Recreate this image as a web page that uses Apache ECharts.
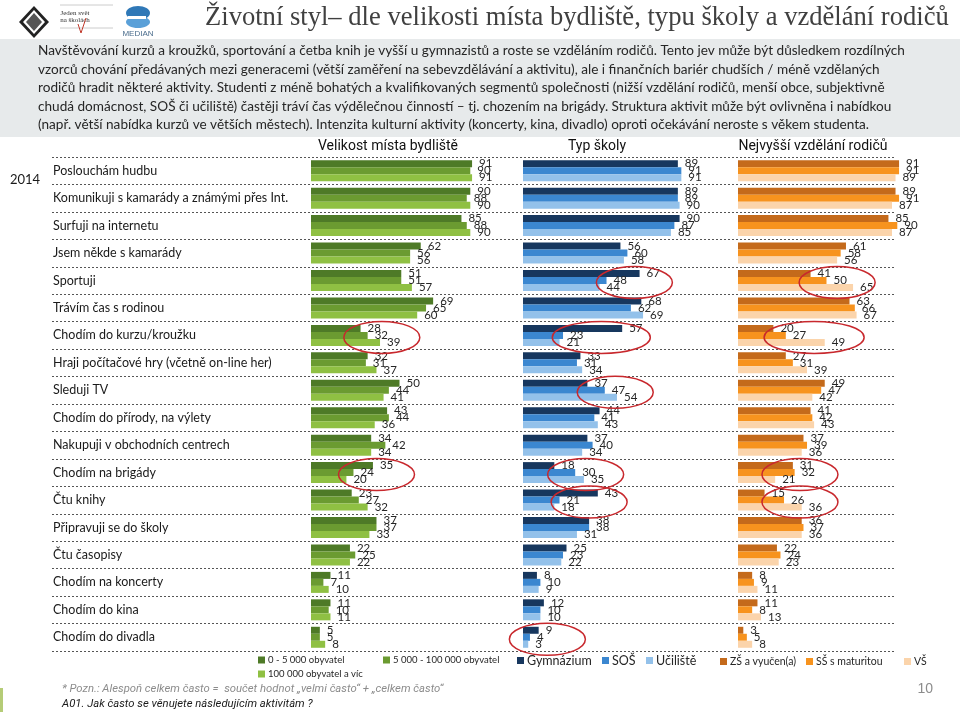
<!DOCTYPE html>
<html><head><meta charset="utf-8">
<script src="https://cdn.jsdelivr.net/npm/echarts@6/dist/echarts.min.js"></script>
<style>html,body{margin:0;padding:0;background:#fff}#c{width:960px;height:712px}</style>
</head><body><div id="c"></div>
<script>
var categories = ["Poslouchám hudbu","Komunikuji s kamarády a známými přes Int.","Surfuji na internetu","Jsem někde s kamarády","Sportuji","Trávím čas s rodinou","Chodím do kurzu/kroužku","Hraji počítačové hry (včetně on-line her)","Sleduji TV","Chodím do přírody, na výlety","Nakupuji v obchodních centrech","Chodím na brigády","Čtu knihy","Připravuji se do školy","Čtu časopisy","Chodím na koncerty","Chodím do kina","Chodím do divadla"];
var townSmall  = [91,90,85,62,51,69,28,32,50,43,34,35,23,37,22,11,11,5];
var townMid    = [90,88,88,56,51,65,32,31,44,44,42,24,27,37,25,7,10,5];
var townBig    = [91,90,90,56,57,60,39,37,41,36,34,20,32,33,22,10,11,8];
var gymnazium  = [89,89,90,56,67,68,57,33,37,44,37,18,43,38,25,8,12,9];
var sos        = [91,89,87,60,48,62,23,31,47,41,40,30,21,38,23,10,10,4];
var uciliste   = [91,90,85,58,44,69,21,34,54,43,34,35,18,31,22,9,10,3];
var zsVyucen   = [91,89,85,61,41,63,20,27,49,41,37,31,15,36,22,8,11,3];
var ssMaturita = [91,91,90,58,50,66,27,31,47,42,39,32,26,37,24,9,8,5];
var vs         = [89,87,87,56,65,67,49,39,42,43,36,21,36,36,23,11,13,8];
var seriesNames = ["0 - 5 000 obyvatel","5 000 - 100 000 obyvatel","100 000 obyvatel a víc","Gymnázium","SOŠ","Učiliště","ZŠ a vyučen(a)","SŠ s maturitou","VŠ"];
var panelTitles = ["Velikost místa bydliště","Typ školy","Nejvyšší vzdělání rodičů"];
var paragraph = [
"Navštěvování kurzů a kroužků, sportování a četba knih je vyšší u gymnazistů a roste se vzděláním rodičů. Tento jev může být důsledkem rozdílných",
"vzorců chování předávaných mezi generacemi (větší zaměření na sebevzdělávání a aktivitu), ale i finančních bariér chudších / méně vzdělaných",
"rodičů hradit některé aktivity. Studenti z méně bohatých a kvalifikovaných segmentů společnosti (nižší vzdělání rodičů, menší obce, subjektivně",
"chudá domácnost, SOŠ či učiliště) častěji tráví čas výdělečnou činností – tj. chozením na brigády. Struktura aktivit může být ovlivněna i nabídkou",
"(např. větší nabídka kurzů ve větších městech). Intenzita kulturní aktivity (koncerty, kina, divadlo) oproti očekávání neroste s věkem studenta."
];
// highlighted (circled) groups: [panel, row, centre value]
var highlights = [[0,6,40],[0,11,37],[1,4,64],[1,6,45],[1,8,53],[1,11,36],[1,12,38],[1,17,14],[2,4,56],[2,6,43],[2,11,35],[2,12,35]];
var highlightRx = [38,38,38,49,38,38,38,38,38,50,38,38];

var colors = ["#4e7a27","#6b9b31","#8fc043","#17375e","#3b87d0","#93c1ea","#c46a1b","#f7931e","#fbd4ab"];
var dataSets = [townSmall,townMid,townBig,gymnazium,sos,uciliste,zsVyucen,ssMaturita,vs];
var NUMFONT = "Lato, 'Noto Sans', sans-serif";
var TOP = 157, H = 494;
var grids = [
  {left:52, width:843, top:TOP, height:H},
  {left:311, width:177, top:TOP, height:H},
  {left:523, width:174, top:TOP, height:H},
  {left:738, width:177, top:TOP, height:H}
];
var xAxes = [], yAxes = [];
for (var g=0; g<4; g++){
  xAxes.push({type:'value', gridIndex:g, min:0, max:100, show:false});
  yAxes.push({type:'category', gridIndex:g, data:categories, inverse:true,
    axisLine:{show:false}, axisTick:{show:false},
    axisLabel:{show:g===0, inside:true, margin:1, color:'#1a1a1a', fontSize:12.5, fontFamily:NUMFONT},
    splitLine:{show:g===0, lineStyle:{color:'#555', width:1, type:[2,2]}}
  });
}
var series = [];
for (var i=0;i<9;i++){
  series.push({name:seriesNames[i], type:'bar', xAxisIndex:1+Math.floor(i/3), yAxisIndex:1+Math.floor(i/3),
    data:dataSets[i], barWidth:7, barGap:'0%', itemStyle:{color:colors[i]},
    label:{show:true, position:'right', distance:7, color:'#262626', fontSize:11.5, fontFamily:NUMFONT},
    emphasis:{disabled:true}, animation:false});
}
var legendPos = [[258,655,9.5],[383,655,9.5],[258,669,9.5],[517,654,12.5],[602,654,12.5],[646,654,12.5],[720,656,10.5],[806,656,10.5],[904,656,10.5]];
var legends = legendPos.map(function(p,i){
  return {data:[seriesNames[i]], left:p[0], top:p[1], itemWidth:7, itemHeight:7, itemGap:4, icon:'rect',
    textStyle:{fontSize:p[2], color:'#262626', fontFamily:NUMFONT, padding:[0,0,0,-2]}, padding:0};
});
var chart = echarts.init(document.getElementById('c'), null, {renderer:'canvas'});
chart.setOption({animation:false, grid:grids, xAxis:xAxes, yAxis:yAxes, series:series, legend:legends});

var els = [];
els.push({type:'rect', shape:{x:0,y:39,width:960,height:98}, style:{fill:'#e7eaeb'}, silent:true});
paragraph.forEach(function(t,i){
  els.push({type:'text', x:38, y:51+i*18.5, style:{text:t, fill:'#262626', font:"13.6px Lato, sans-serif", textVerticalAlign:'middle'}, silent:true});
});
els.push({type:'text', x:205, y:18, style:{text:"Životní styl– dle velikosti místa bydliště, typu školy a vzdělání rodičů", fill:'#404040', font:"26.6px 'Liberation Serif', serif", textVerticalAlign:'middle'}, silent:true});
var pcx = [388,597,813];
panelTitles.forEach(function(t,i){
  els.push({type:'text', x:pcx[i], y:146, style:{text:t, fill:'#111', font:"14px 'Liberation Sans Narrow', 'Roboto', sans-serif", textAlign:'center', textVerticalAlign:'middle'}, silent:true});
});
els.push({type:'text', x:10, y:180, style:{text:'2014', fill:'#1a1a1a', font:"13px Lato, sans-serif", textVerticalAlign:'middle'}, silent:true});
els.push({type:'text', x:62, y:689, style:{text:"* Pozn.: Alespoň celkem často =  součet hodnot „velmi často“ + „celkem často“", fill:'#8c8c8c', font:"italic 11.3px 'Liberation Sans Narrow', 'Roboto', sans-serif", textVerticalAlign:'middle'}, silent:true});
els.push({type:'text', x:62, y:704, style:{text:"A01. Jak často se věnujete následujícím aktivitám ?", fill:'#1a1a1a', font:"italic 11.3px 'Liberation Sans Narrow', 'Roboto', sans-serif", textVerticalAlign:'middle'}, silent:true});
els.push({type:'text', x:933, y:689, style:{text:"10", fill:'#8c8c8c', font:"14px 'Liberation Sans', sans-serif", textAlign:'right', textVerticalAlign:'middle'}, silent:true});
els.push({type:'rect', shape:{x:0,y:688,width:3,height:24}, style:{fill:'#b5cc77'}, silent:true});
// logos
els.push({type:'polygon', shape:{points:[[34,6],[49,22],[34,38],[19,22]]}, style:{fill:'#222'}, silent:true});
els.push({type:'polygon', shape:{points:[[34,10],[45,22],[34,34],[23,22]]}, style:{fill:'#fff'}, silent:true});
els.push({type:'polygon', shape:{points:[[34,13],[42,22],[34,31],[26,22]]}, style:{fill:'#555'}, silent:true});
els.push({type:'text', x:75, y:13, style:{text:"Jeden svět", fill:'#333', font:"7px 'Liberation Serif', serif", textAlign:'center', textVerticalAlign:'middle'}, silent:true});
els.push({type:'text', x:75, y:20, style:{text:"na školách", fill:'#333', font:"7px 'Liberation Serif', serif", textAlign:'center', textVerticalAlign:'middle'}, silent:true});
els.push({type:'line', shape:{x1:60,y1:5,x2:113,y2:5}, style:{stroke:'#ccc', lineWidth:1}, silent:true});
els.push({type:'line', shape:{x1:60,y1:28,x2:113,y2:28}, style:{stroke:'#ccc', lineWidth:1}, silent:true});
els.push({type:'polyline', shape:{points:[[78,24],[81,33],[86,18]]}, style:{stroke:'#c0392b', lineWidth:1, fill:null}, silent:true});
els.push({type:'ellipse', shape:{cx:138,cy:13,rx:12,ry:7}, style:{fill:'#2f78b7'}, silent:true});
els.push({type:'ellipse', shape:{cx:138,cy:22,rx:12,ry:6}, style:{fill:'#5aa0d8'}, silent:true});
els.push({type:'rect', shape:{x:128,y:16,width:18,height:3}, style:{fill:'#fff'}, silent:true});
els.push({type:'text', x:138, y:34, style:{text:"MEDIAN", fill:'#4a6c8c', font:"8px 'Liberation Sans', sans-serif", textAlign:'center', textVerticalAlign:'middle'}, silent:true});
highlights.forEach(function(h,i){
  var p = chart.convertToPixel({gridIndex:1+h[0]}, [h[2], h[1]]);
  els.push({type:'ellipse', shape:{cx:p[0], cy:p[1]+2, rx:highlightRx[i], ry:16}, style:{fill:null, stroke:'#c8282d', lineWidth:1.5}, silent:true, z:100});
});
chart.setOption({graphic:{elements:els}});
</script></body></html>
